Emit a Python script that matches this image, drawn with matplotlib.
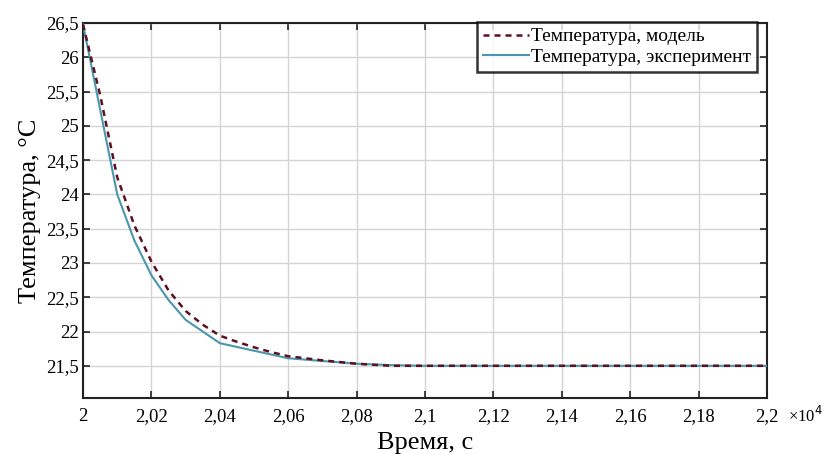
import matplotlib

matplotlib.use("Agg")
import matplotlib.pyplot as plt
import numpy as np

plt.rcParams["font.family"] = ["Liberation Serif", "DejaVu Serif"]

# ---- data (time in s, temperature in °C) ----
t_model = [20000, 20050, 20100, 20150, 20200, 20250, 20300, 20350, 20400,
           20450, 20500, 20550, 20600, 20700, 20800, 20900, 21000, 22000]
temp_model = [26.48, 25.45, 24.25, 23.55, 23.02, 22.60, 22.30, 22.10, 21.94,
              21.85, 21.77, 21.70, 21.64, 21.58, 21.53, 21.50, 21.50, 21.50]

t_exp = [20000, 20100, 20150, 20200, 20250, 20300, 20400, 20500, 20600,
         20700, 20800, 20900, 21000, 22000]
temp_exp = [26.48, 24.00, 23.33, 22.82, 22.46, 22.17, 21.83, 21.72, 21.61,
            21.57, 21.53, 21.51, 21.50, 21.50]

x_ticks = [20000, 20200, 20400, 20600, 20800, 21000, 21200, 21400, 21600, 21800, 22000]
x_labels = ["2", "2,02", "2,04", "2,06", "2,08", "2,1", "2,12", "2,14", "2,16", "2,18", "2,2"]
y_ticks = [21.5, 22, 22.5, 23, 23.5, 24, 24.5, 25, 25.5, 26, 26.5]
y_labels = ["21,5", "22", "22,5", "23", "23,5", "24", "24,5", "25", "25,5", "26", "26,5"]

fig = plt.figure(figsize=(8.27, 4.54), dpi=100)
ax = fig.add_axes([0.1004, 0.1233, 0.8270, 0.8260])

ax.plot(t_exp, temp_exp, color="#4a97ad", lw=1.5,
        label="Температура, эксперимент", zorder=3)
ax.plot(t_model, temp_model, color="#5c1020", lw=1.8, ls=(0, (2.4, 2.0)),
        label="Температура, модель", zorder=4)

ax.set_xlim(20000, 22000)
ax.set_ylim(21.03, 26.5)
ax.set_xticks(x_ticks, x_labels)
ax.set_yticks(y_ticks, y_labels)
ax.tick_params(direction="in", length=5, width=1.2, labelsize=13.5,
               top=True, right=True, color="#222222")
ax.tick_params(axis="x", pad=7)
ax.tick_params(axis="y", pad=3)
ax.grid(True, color="#d4d4d4", lw=1)
for s in ax.spines.values():
    s.set_linewidth(1.5)
    s.set_color("#222222")

ax.set_xlabel("Время, с", fontsize=19, labelpad=5)
ax.set_ylabel("Температура, °С", fontsize=19, labelpad=4)
ax.text(1.031, -0.048, "×10$^{4}$", transform=ax.transAxes, fontsize=12,
        ha="left", va="center")

handles, labels = ax.get_legend_handles_labels()
leg = ax.legend(handles[::-1], labels[::-1], loc="upper right",
                bbox_to_anchor=(0.9855, 1.003), fontsize=14, frameon=True,
                fancybox=False, borderpad=0.3, handlelength=2.4,
                handletextpad=0.1, labelspacing=0.15, borderaxespad=0)
leg.get_frame().set_edgecolor("black")
leg.get_frame().set_linewidth(1.8)

fig.savefig("out.png", dpi=100)
